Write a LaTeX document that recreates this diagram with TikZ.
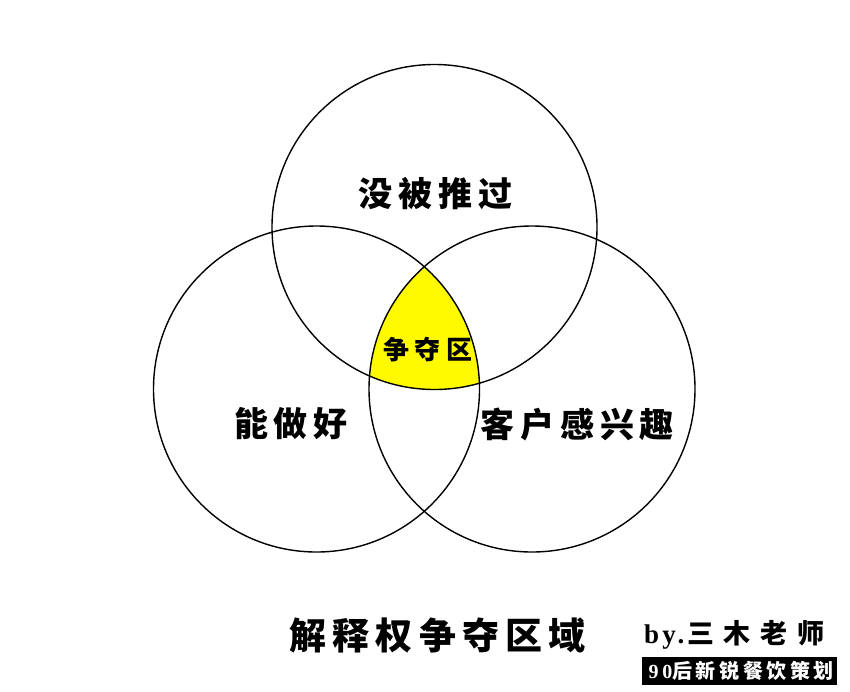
\documentclass[tikz,border=0pt]{standalone}
\usepackage{fontspec}
\setmainfont{Liberation Serif}
\newfontfamily\cjk{Noto Sans CJK SC}
\definecolor{hot}{RGB}{255,250,0}
\newcommand\spaced[2]{{\addfontfeature{LetterSpace=#1}#2}\kern-\dimexpr#1em/100\relax}
\begin{document}
\begin{tikzpicture}[x=1pt,y=-1pt,
  ring/.style={circle,draw=black,line width=1.4pt,minimum size=326pt,inner sep=0pt},
  biglabel/.style={font=\cjk\bfseries\fontsize{34}{34}\selectfont,inner sep=0pt},
  midlabel/.style={font=\cjk\bfseries\fontsize{26}{26}\selectfont,inner sep=0pt},
  titlelabel/.style={font=\cjk\bfseries\fontsize{37}{37}\selectfont,inner sep=0pt}]
\useasboundingbox (0,0) rectangle (850,691);
\fill[white] (0,0) rectangle (850,691);
\coordinate (ct) at (434.5,227);
\coordinate (cl) at (316.5,389);
\coordinate (cr) at (532,389);
\begin{scope}
  \clip (ct) circle[radius=162.5pt];
  \clip (cl) circle[radius=163pt];
  \fill[hot] (cr) circle[radius=163pt];
\end{scope}
\node[ring,minimum size=325pt] (top) at (ct) {};
\node[ring] (left) at (cl) {};
\node[ring] (right) at (cr) {};
\node[biglabel] (t1) at (432.5,193.5) {\spaced{17}{没被推过}};
\node[biglabel] (t2) at (288,424) {\spaced{17}{能做好}};
\node[biglabel] (t3) at (574.5,424) {\spaced{17}{客户感兴趣}};
\node[midlabel] (t4) at (425,350) {\spaced{22}{争夺区}};
\node[titlelabel] (title) at (434.5,635) {\spaced{17}{解释权争夺区域}};
\node[inner sep=0pt,anchor=west] (by) at (644,635)
  {\fontsize{27}{27}\selectfont\bfseries\spaced{12}{by.}\kern6pt{\cjk\bfseries\fontsize{27}{27}\selectfont\spaced{36}{三木老师}}};
\node[fill=black,text=white,inner sep=0pt,minimum width=194.4pt,minimum height=28.3pt] (tag) at (739.5,670.8)
  {\fontsize{20}{20}\selectfont\bfseries\spaced{18}{90}\kern3.6pt{\cjk\bfseries\fontsize{20}{20}\selectfont\spaced{18}{后新锐餐饮策划}}};
\end{tikzpicture}
\end{document}
